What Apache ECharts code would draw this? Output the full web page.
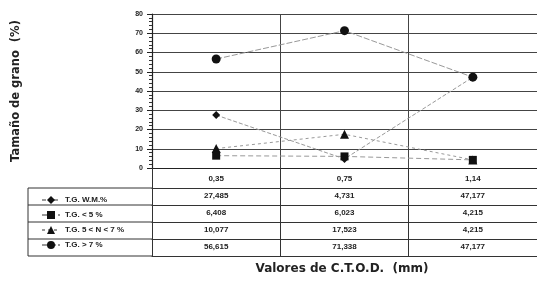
<!DOCTYPE html>
<html><head><meta charset="utf-8">
<script src="https://cdn.jsdelivr.net/npm/echarts@6/dist/echarts.min.js"></script>
<style>html,body{margin:0;padding:0;background:#fff}#c{width:537px;height:284px}</style>
</head><body><div id="c"></div>
<script>
// ---- data ----
const categories = ['0,35', '0,75', '1,14'];
const seriesNames = ['T.G. W.M.%', 'T.G. < 5 %', 'T.G. 5 < N < 7 %', 'T.G. > 7 %'];
const tgWM = [27.485, 4.731, 47.177];
const tgLess5 = [6.408, 6.023, 4.215];
const tg5to7 = [10.077, 17.523, 4.215];
const tgMore7 = [56.615, 71.338, 47.177];
const yTicks = [0, 10, 20, 30, 40, 50, 60, 70, 80];

const rows = [tgWM, tgLess5, tg5to7, tgMore7];
const fmt = v => v.toFixed(3).replace('.', ',');
const FONT = 'Liberation Sans';
const GRID = {left: 152, right: -2, top: 14, bottom: 116};
const ROW_H = 17;

const xAxes = [{
  type: 'category', data: categories, position: 'bottom', gridIndex: 0,
  axisLine: {show: true, lineStyle: {color: '#222', width: 1.2}},
  axisTick: {show: true, length: 20, interval: 0, lineStyle: {color: '#333'}},
  axisLabel: {margin: 7, fontSize: 8, color: '#222', fontFamily: FONT, fontWeight: 'bold'},
  splitLine: {show: true, interval: 0, lineStyle: {color: '#444', width: 1}}
}];
rows.forEach((r, i) => {
  xAxes.push({
    type: 'category', data: r.map(fmt), position: 'bottom', gridIndex: 0,
    offset: 20 + ROW_H * i,
    axisLine: {show: true, lineStyle: {color: '#333', width: 1}},
    axisTick: {show: true, length: ROW_H, interval: 0, lineStyle: {color: '#333'}},
    axisLabel: {margin: 4, fontSize: 8, color: '#222', fontFamily: FONT, fontWeight: 'bold'},
    splitLine: {show: false}
  });
});
xAxes.push({
  type: 'category', data: categories.map(() => ''), position: 'bottom', gridIndex: 0,
  offset: 20 + ROW_H * 4,
  axisLine: {show: true, lineStyle: {color: '#333', width: 1}},
  axisTick: {show: false}, axisLabel: {show: false}, splitLine: {show: false}
});

const symbols = ['diamond', 'rect', 'triangle', 'circle'];
const sizes = [8, 8, 9, 9];
const dashes = [[4, 2], [5, 3], [3, 3], [6, 2]];
const zs = [2, 4, 3, 5];
const series = rows.map((r, i) => ({
  name: seriesNames[i], type: 'line', data: r, xAxisIndex: 0, yAxisIndex: 0,
  symbol: symbols[i], symbolSize: sizes[i], z: zs[i],
  itemStyle: {color: '#111'},
  lineStyle: {color: '#999', width: 1, type: dashes[i]},
  emphasis: {disabled: true}
}));

const chart = echarts.init(document.getElementById('c'), null, {renderer: 'canvas'});

const lgTop = 168 + 20;
const legendGraphics = [];
for (let i = 0; i <= 4; i++) {
  legendGraphics.push({type: 'line', shape: {x1: 28, y1: lgTop + ROW_H * i, x2: 152, y2: lgTop + ROW_H * i},
    style: {stroke: '#333', lineWidth: 1}});
}
legendGraphics.push({type: 'line', shape: {x1: 28, y1: lgTop, x2: 28, y2: lgTop + ROW_H * 4}, style: {stroke: '#333', lineWidth: 1}});

chart.setOption({
  animation: false,
  backgroundColor: '#fff',
  grid: GRID,
  xAxis: xAxes,
  yAxis: {
    type: 'value', min: yTicks[0], max: yTicks[yTicks.length - 1], interval: 10,
    axisLine: {show: true, lineStyle: {color: '#222', width: 1.2}},
    axisTick: {show: true, length: 5, lineStyle: {color: '#222'}},
    minorTick: {show: true, splitNumber: 5, length: 3, lineStyle: {color: '#333'}},
    axisLabel: {margin: 9, fontSize: 7, color: '#222', fontFamily: FONT, fontWeight: 'bold'},
    splitLine: {show: true, lineStyle: {color: '#444', width: 1.2}},
    name: 'Tamaño de grano  (%)', nameLocation: 'middle', nameGap: 130, nameRotate: 90,
    nameTextStyle: {fontSize: 11.5, fontWeight: 'bold', color: '#222', fontFamily: 'DejaVu Sans'}
  },
  legend: {
    orient: 'vertical', left: 36, top: lgTop + 3, itemGap: 7, itemWidth: 18, itemHeight: 10,
    textStyle: {fontSize: 8, color: '#222', fontFamily: FONT, fontWeight: 'bold'},
    data: seriesNames, selectedMode: false
  },
  graphic: legendGraphics.concat([{
    type: 'text', x: 342, y: 269,
    style: {text: 'Valores de C.T.O.D.  (mm)', font: 'bold 12px "DejaVu Sans"', fill: '#222',
      textAlign: 'center', textVerticalAlign: 'middle'}
  }]),
  series: series
});
</script></body></html>
